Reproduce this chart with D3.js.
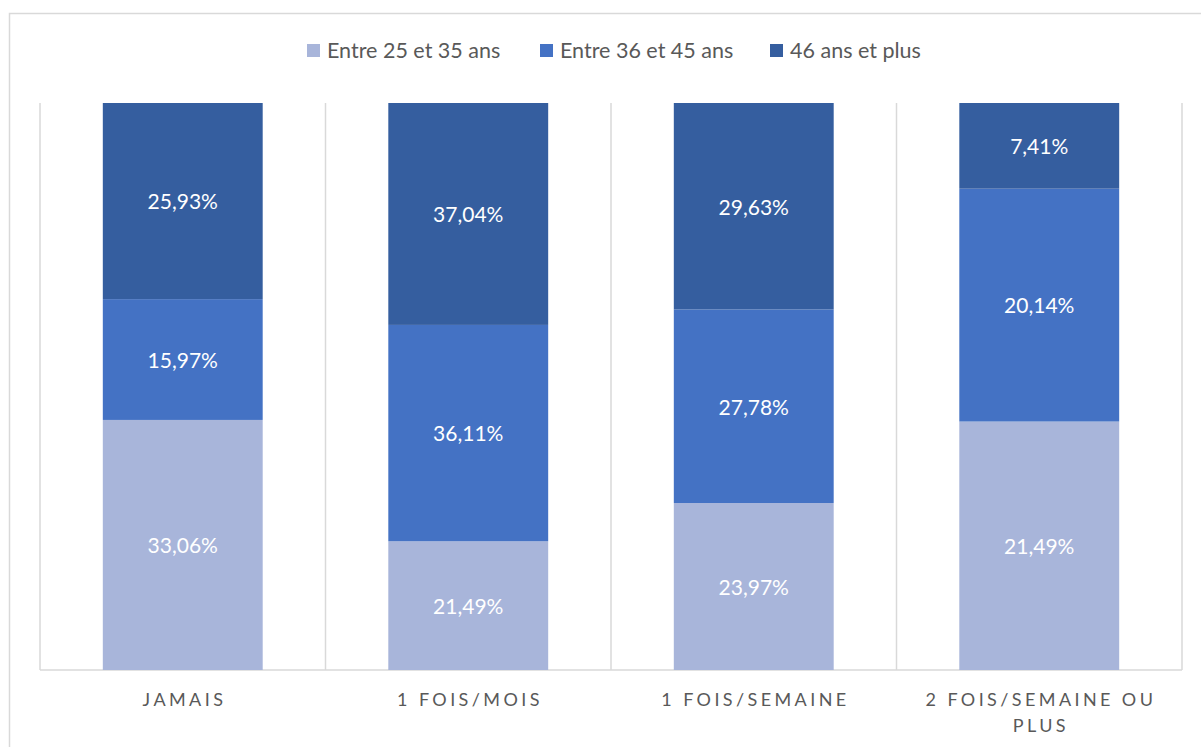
<!DOCTYPE html>
<html><head><meta charset="utf-8">
<script src="https://cdn.jsdelivr.net/npm/d3@7"></script>
<style>
html,body{margin:0;padding:0;background:#fff;}
svg{display:block;font-family:Lato,"Open Sans",sans-serif;}
</style></head>
<body>
<svg id="chart" width="1201" height="747"></svg>
<script>
const categories = ["JAMAIS", "1 FOIS/MOIS", "1 FOIS/SEMAINE", "2 FOIS/SEMAINE OU PLUS"];
const categoryLines = [["JAMAIS"], ["1 FOIS/MOIS"], ["1 FOIS/SEMAINE"], ["2 FOIS/SEMAINE OU", "PLUS"]];
const seriesNames = ["Entre 25 et 35 ans", "Entre 36 et 45 ans", "46 ans et plus"];
const seriesColors = ["#A8B5DA", "#4472C4", "#355E9F"];
const age25_35 = [33.06, 21.49, 23.97, 21.49];
const age36_45 = [15.97, 36.11, 27.78, 20.14];
const age46plus = [25.93, 37.04, 29.63, 7.41];
const seriesValues = [age25_35, age36_45, age46plus];

const svg = d3.select("#chart");
const W = 1201, H = 747;
const margin = {left: 40, right: 19, top: 103, bottom: 77};
const x0 = margin.left, x1 = W - margin.right, y0 = margin.top, y1 = H - margin.bottom;

// outer frame
svg.append("rect").attr("x", 9.5).attr("y", 13.5).attr("width", 1300).attr("height", 800)
  .attr("fill", "none").attr("stroke", "#d9d9d9").attr("stroke-width", 1.5);

const x = d3.scaleBand().domain(categories).range([x0, x1]).paddingInner(0).paddingOuter(0);
const y = d3.scaleLinear().domain([0, 1]).range([y1, y0]);

const rows = categories.map((c, i) => {
  const total = seriesValues.reduce((s, arr) => s + arr[i], 0);
  const r = {cat: c, total};
  seriesNames.forEach((n, k) => r[n] = seriesValues[k][i] / total);
  return r;
});
const stacked = d3.stack().keys(seriesNames)(rows);

// gridlines (vertical category separators)
const gridX = categories.map(c => x(c)).concat([x1]);
svg.append("g").selectAll("line").data(gridX).join("line")
  .attr("x1", d => d).attr("x2", d => d).attr("y1", y0).attr("y2", y1)
  .attr("stroke", "#d9d9d9").attr("stroke-width", 1.5);
svg.append("line").attr("x1", x0).attr("x2", x1).attr("y1", y1).attr("y2", y1)
  .attr("stroke", "#d9d9d9").attr("stroke-width", 1.5);

const barW = x.bandwidth() * 0.56;
const off = (x.bandwidth() - barW) / 2;

const fmt = v => v.toFixed(2).replace(".", ",") + "%";

stacked.forEach((layer, k) => {
  const g = svg.append("g");
  g.selectAll("rect").data(layer).join("rect")
    .attr("x", d => x(d.data.cat) + off)
    .attr("width", barW)
    .attr("y", d => y(d[1]))
    .attr("height", d => y(d[0]) - y(d[1]))
    .attr("fill", seriesColors[k]);
  g.selectAll("text").data(layer).join("text")
    .attr("x", d => x(d.data.cat) + x.bandwidth() / 2)
    .attr("y", d => (y(d[0]) + y(d[1])) / 2 + 1)
    .attr("dy", "0.35em")
    .attr("text-anchor", "middle")
    .attr("fill", "#fff").attr("font-size", 21)
    .text((d, i) => fmt(seriesValues[k][i]));
});

// x axis labels
const xl = svg.append("g");
categories.forEach((c, i) => {
  const t = xl.append("text").attr("text-anchor", "middle")
    .attr("fill", "#595959").attr("font-size", 18).attr("letter-spacing", 3.4);
  categoryLines[i].forEach((line, j) => {
    t.append("tspan").attr("x", x(c) + x.bandwidth() / 2 + 1.7).attr("y", 706 + j * 26).text(line);
  });
});

// legend
const legend = svg.append("g");
const legendX = [307, 540, 770];
seriesNames.forEach((n, k) => {
  legend.append("rect").attr("x", legendX[k]).attr("y", 44).attr("width", 13).attr("height", 13)
    .attr("fill", seriesColors[k]);
  legend.append("text").attr("x", legendX[k] + 20).attr("y", 50.5).attr("dy", "0.35em")
    .attr("fill", "#595959").attr("font-size", 21.5).text(n);
});
</script>
</body></html>
